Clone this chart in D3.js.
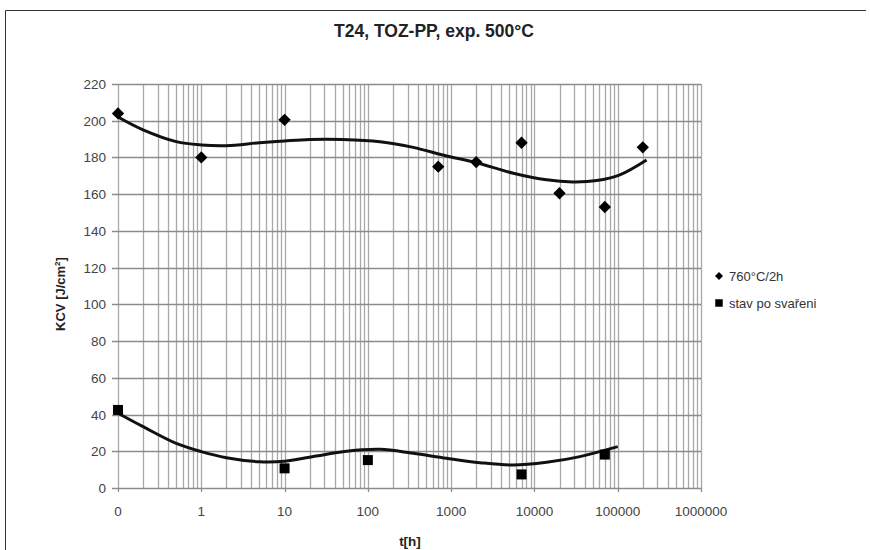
<!DOCTYPE html>
<html>
<head>
<meta charset="utf-8">
<script src="https://cdn.jsdelivr.net/npm/d3@7"></script>
<style>
body { margin: 0; background: #fff; }
svg { font-family: "Liberation Sans", Arial, sans-serif; }
</style>
</head>
<body>
<svg id="chart" width="870" height="550"></svg>
<script>
// chart data
var title = 'T24, TOZ-PP, exp. 500°C';
var seriesNames = ['760°C/2h', 'stav po svařeni'];

// 760C/2h points
var annealT = [0.1, 1, 10, 700, 2000, 7000, 20000, 70000, 200000];
var annealV = [204, 180, 200.5, 175, 177.5, 188, 160.5, 153, 185.5];

// as welded points
var weldT = [0.1, 10, 100, 7000, 70000];
var weldV = [42.5, 10.7, 15.2, 7.4, 18.2];

// trend curves
var annealTrendT = [0.1, 0.2, 0.5, 1, 2, 5, 10, 20, 50, 140, 350, 880, 1930, 5570, 14000, 29000, 55800, 106000, 222000];
var annealTrendV = [202, 195, 188.6, 186.8, 186.4, 188, 189, 189.8, 189.8, 188.6, 185.5, 180.8, 177.4, 171.4, 167.8, 166.7, 167.4, 170.5, 178.6];
var weldTrendT = [0.1, 0.2, 0.5, 1, 2, 5, 10, 24, 50, 140, 350, 880, 2220, 5570, 14000, 35200, 100000];
var weldTrendV = [40.7, 33.4, 24.3, 19.8, 16.5, 14.3, 14.6, 17.4, 19.8, 21.1, 18.9, 16.2, 13.8, 12.5, 14, 17.1, 22.5];

var xTicks = [0.1, 1, 10, 100, 1000, 10000, 100000, 1000000];
var yTicks = [0, 20, 40, 60, 80, 100, 120, 140, 160, 180, 200, 220];

var svg = d3.select('#chart');

var x = d3.scaleLog().domain([0.1, 1000000]).range([118, 701]);
var y = d3.scaleLinear().domain([0, 220]).range([488, 84]);

// outer frame (top and left edge)
svg.append('path')
  .attr('d', 'M5.5,550 L5.5,10.5 L866,10.5')
  .attr('fill', 'none')
  .attr('stroke', '#333')
  .attr('stroke-width', 1);

// minor vertical grid
var minor = [];
for (var e = -1; e < 6; e++) {
	for (var k = 1; k < 10; k++) {
		minor.push(k * Math.pow(10, e));
	}
}
minor.push(1000000);

var grid = svg.append('g');
grid.selectAll('.vgrid')
  .data(minor)
  .enter()
  .append('line')
  .attr('x1', function(d) { return Math.round(x(d)) + 0.5; })
  .attr('x2', function(d) { return Math.round(x(d)) + 0.5; })
  .attr('y1', y(220))
  .attr('y2', y(0))
  .attr('stroke', '#a8a8a8')
  .attr('stroke-width', 1.3);

grid.selectAll('.hgrid')
  .data(yTicks)
  .enter()
  .append('line')
  .attr('x1', 112)
  .attr('x2', x(1000000))
  .attr('y1', function(d) { return Math.round(y(d)) + 0.5; })
  .attr('y2', function(d) { return Math.round(y(d)) + 0.5; })
  .attr('stroke', '#8c8c8c')
  .attr('stroke-width', 1.3);

// bottom ticks
grid.selectAll('.xtick')
  .data(xTicks)
  .enter()
  .append('line')
  .attr('x1', function(d) { return Math.round(x(d)) + 0.5; })
  .attr('x2', function(d) { return Math.round(x(d)) + 0.5; })
  .attr('y1', y(0))
  .attr('y2', y(0) + 4)
  .attr('stroke', '#8c8c8c')
  .attr('stroke-width', 1.3);

// tick labels
svg.append('g').selectAll('text')
  .data(xTicks)
  .enter()
  .append('text')
  .attr('x', function(d) { return x(d); })
  .attr('y', 516)
  .attr('text-anchor', 'middle')
  .attr('font-size', 13.5)
  .attr('fill', '#444')
  .text(function(d) { return d < 1 ? '0' : d3.format('d')(d); });

svg.append('g').selectAll('text')
  .data(yTicks)
  .enter()
  .append('text')
  .attr('x', 106)
  .attr('y', function(d) { return y(d) + 5; })
  .attr('text-anchor', 'end')
  .attr('font-size', 13.5)
  .attr('fill', '#444')
  .text(function(d) { return d; });

// titles
svg.append('text')
  .attr('x', 434)
  .attr('y', 37)
  .attr('text-anchor', 'middle')
  .attr('font-size', 17.5)
  .attr('font-weight', 'bold')
  .attr('fill', '#222')
  .text(title);

svg.append('text')
  .attr('x', 410)
  .attr('y', 546)
  .attr('text-anchor', 'middle')
  .attr('font-size', 13.5)
  .attr('font-weight', 'bold')
  .attr('fill', '#222')
  .text('t[h]');

var yLabel = svg.append('text')
  .attr('transform', 'translate(65,' + ((y(0) + y(220)) / 2 + 8) + ') rotate(-90)')
  .attr('text-anchor', 'middle')
  .attr('font-size', 13)
  .attr('font-weight', 'bold')
  .attr('fill', '#222');
yLabel.append('tspan').text('KCV  [J/cm');
yLabel.append('tspan').attr('dy', -5).attr('font-size', 8).text('2');
yLabel.append('tspan').attr('dy', 5).text(']');

// trend lines
var line = d3.line()
  .x(function(d) { return x(d[0]); })
  .y(function(d) { return y(d[1]); })
  .curve(d3.curveCatmullRom);

svg.append('path')
  .datum(d3.zip(annealTrendT, annealTrendV))
  .attr('d', line)
  .attr('fill', 'none')
  .attr('stroke', '#111')
  .attr('stroke-width', 3);

svg.append('path')
  .datum(d3.zip(weldTrendT, weldTrendV))
  .attr('d', line)
  .attr('fill', 'none')
  .attr('stroke', '#111')
  .attr('stroke-width', 3);

// markers
var diamond = d3.symbol().type(d3.symbolSquare).size(76);
var square = d3.symbol().type(d3.symbolSquare).size(100);

svg.append('g').selectAll('path')
  .data(d3.zip(annealT, annealV))
  .enter()
  .append('path')
  .attr('d', diamond)
  .attr('transform', function(d) { return 'translate(' + x(d[0]) + ',' + y(d[1]) + ') rotate(45)'; })
  .attr('fill', '#000');

svg.append('g').selectAll('path')
  .data(d3.zip(weldT, weldV))
  .enter()
  .append('path')
  .attr('d', square)
  .attr('transform', function(d) { return 'translate(' + x(d[0]) + ',' + y(d[1]) + ')'; })
  .attr('fill', '#000');

// legend
var legend = svg.append('g').attr('transform', 'translate(719,276)');
legend.append('path')
  .attr('d', d3.symbol().type(d3.symbolSquare).size(32))
  .attr('transform', 'rotate(45)')
  .attr('fill', '#000');
legend.append('text')
  .attr('x', 10)
  .attr('y', 5)
  .attr('font-size', 13)
  .attr('fill', '#333')
  .text(seriesNames[0]);
legend.append('path')
  .attr('d', d3.symbol().type(d3.symbolSquare).size(56))
  .attr('transform', 'translate(0,27)')
  .attr('fill', '#000');
legend.append('text')
  .attr('x', 10)
  .attr('y', 32)
  .attr('font-size', 13)
  .attr('fill', '#333')
  .text(seriesNames[1]);
</script>
</body>
</html>
